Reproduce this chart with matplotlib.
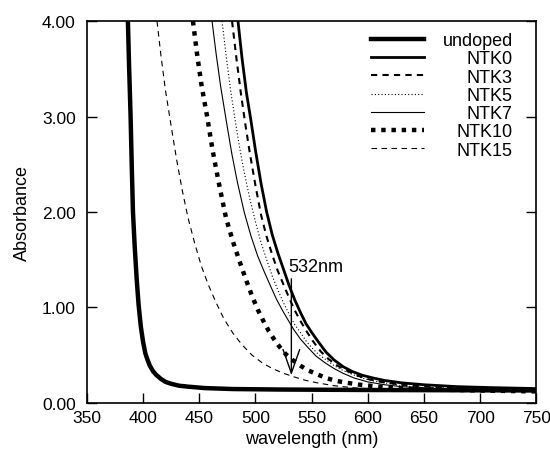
import matplotlib
matplotlib.use("Agg")
import matplotlib.pyplot as plt
from matplotlib.transforms import Affine2D

plt.rcParams['font.family'] = ['Liberation Sans', 'DejaVu Sans']

# absorbance spectra (wavelength in nm, absorbance)
wl_undoped = [386.5, 387.5, 388.9, 390, 391, 392.5, 394.3, 396, 398, 400, 402, 404, 406, 409,
              412, 416, 420, 425, 432, 440, 455, 480, 520, 600, 750]
ab_undoped = [4.0, 3.55, 3.0, 2.45, 2.0, 1.65, 1.3, 1.03, 0.80, 0.64, 0.52, 0.45, 0.39, 0.33,
              0.29, 0.25, 0.22, 0.20, 0.18, 0.17, 0.155, 0.145, 0.14, 0.135, 0.13]

wl_ntk0 = [484.5, 488, 492, 496, 500, 505, 510, 515, 520, 525, 530, 535, 540, 545, 550, 556,
           563, 570, 578, 586, 595, 605, 615, 630, 650, 680, 710, 750]
ab_ntk0 = [4.0, 3.62, 3.25, 2.96, 2.65, 2.30, 2.00, 1.76, 1.57, 1.40, 1.23, 1.08, 0.95, 0.83,
           0.74, 0.64, 0.53, 0.45, 0.38, 0.33, 0.29, 0.26, 0.235, 0.21, 0.19, 0.17, 0.16, 0.15]

wl_ntk3 = [479.2, 483, 487, 491, 495, 500, 505, 510, 515, 520, 525, 530, 535, 540, 545, 551,
           558, 565, 573, 581, 590, 600, 612, 630, 650, 680, 710, 750]
ab_ntk3 = [4.0, 3.62, 3.25, 2.92, 2.62, 2.28, 1.97, 1.74, 1.55, 1.38, 1.24, 1.10, 0.97, 0.86,
           0.76, 0.65, 0.54, 0.46, 0.39, 0.34, 0.29, 0.25, 0.22, 0.19, 0.17, 0.16, 0.15, 0.14]

wl_ntk5 = [470.3, 474, 478, 482, 486, 490, 495, 500, 505, 510, 515, 520, 525, 530, 535, 540,
           545, 550, 556, 563, 570, 578, 586, 595, 605, 615, 630, 650, 680, 710, 750]
ab_ntk5 = [4.0, 3.63, 3.27, 2.96, 2.67, 2.42, 2.14, 1.90, 1.68, 1.50, 1.33, 1.18, 1.05, 0.93,
           0.82, 0.74, 0.65, 0.58, 0.51, 0.45, 0.39, 0.34, 0.30, 0.26, 0.23, 0.21, 0.18, 0.16,
           0.145, 0.14, 0.13]

wl_ntk7 = [461.4, 465, 469, 474, 479, 484, 490, 496, 502, 508, 514, 519, 525, 530, 534, 540,
           546, 554, 562, 570, 578, 588, 600, 615, 630, 650, 680, 710, 750]
ab_ntk7 = [4.0, 3.66, 3.32, 2.96, 2.61, 2.31, 2.00, 1.75, 1.54, 1.37, 1.21, 1.08, 0.95, 0.85,
           0.77, 0.67, 0.59, 0.49, 0.42, 0.36, 0.31, 0.26, 0.22, 0.19, 0.17, 0.155, 0.145,
           0.135, 0.13]

wl_ntk10 = [444.4, 448, 452, 457, 462, 468, 474, 480, 486, 491, 497, 502, 507, 512, 517, 522,
            527, 533, 540, 547, 555, 563, 572, 582, 593, 610, 630, 660, 700, 750]
ab_ntk10 = [4.0, 3.66, 3.33, 3.0, 2.64, 2.27, 1.93, 1.69, 1.48, 1.31, 1.12, 0.98, 0.86, 0.75,
            0.66, 0.58, 0.51, 0.45, 0.39, 0.34, 0.30, 0.26, 0.23, 0.21, 0.19, 0.17, 0.15,
            0.14, 0.13, 0.12]

wl_ntk15 = [412.4, 416, 420, 425, 430, 435, 440, 446, 452, 458, 465, 472, 480, 488, 497, 506,
            515, 525, 535, 545, 555, 570, 590, 620, 660, 700, 750]
ab_ntk15 = [4.0, 3.63, 3.27, 2.90, 2.54, 2.22, 1.94, 1.67, 1.43, 1.24, 1.05, 0.88, 0.73, 0.61,
            0.50, 0.42, 0.36, 0.31, 0.27, 0.235, 0.21, 0.18, 0.155, 0.14, 0.13, 0.125, 0.12]

fig = plt.figure(figsize=(5.5, 4.6), dpi=100)
ax = fig.add_axes([0.158, 0.122, 0.817, 0.83])

ax.plot(wl_undoped, ab_undoped, color='k', lw=3.2, label='undoped')
ax.plot(wl_ntk0, ab_ntk0, color='k', lw=2.0, label='NTK0')
ax.plot(wl_ntk3, ab_ntk3, color='k', lw=1.5, ls=(0, (3, 2.5)), label='NTK3')
ax.plot(wl_ntk5, ab_ntk5, color='k', lw=0.8, ls=(0, (1, 2)), label='NTK5')
ax.plot(wl_ntk7, ab_ntk7, color='k', lw=0.8, label='NTK7')
ax.plot(wl_ntk10, ab_ntk10, color='k', lw=3.2, ls=(0, (1, 1.3)), label='NTK10')
ax.plot(wl_ntk15, ab_ntk15, color='k', lw=0.8, ls=(0, (5, 4)), label='NTK15')

# 532 nm marker
ax.annotate('', xy=(532, 0.29), xytext=(532, 1.30),
            arrowprops=dict(arrowstyle='->,head_length=0.85,head_width=0.3',
                            lw=1, color='k', mutation_scale=20,
                            shrinkA=0, shrinkB=0))
ax.text(529.5, 1.43, '532nm', fontsize=13, va='center', ha='left')

ax.set_xlim(350, 750)
ax.set_ylim(0, 4)
ax.set_xticks(range(350, 751, 50))
ax.set_yticks([0, 1, 2, 3, 4])
ax.set_yticklabels(['%.2f' % v for v in [0, 1, 2, 3, 4]])
ax.tick_params(direction='in', length=7, width=1, labelsize=12.5, right=True, top=False)
ax.tick_params(axis='x', pad=5)
ax.tick_params(axis='y', pad=8)
for s in ax.spines.values():
    s.set_linewidth(1.2)
ax.set_xlabel('wavelength (nm)', fontsize=13, labelpad=4)
ax.set_ylabel('Absorbance', fontsize=13, labelpad=8)

leg = ax.legend(loc='upper right', frameon=False, fontsize=13, handlelength=2.9,
                labelspacing=0.07, handletextpad=1.05, borderaxespad=0.0,
                bbox_to_anchor=(0.964, 0.99))
fig.canvas.draw()
r = fig.canvas.get_renderer()
texts = leg.get_texts()
widths = [t.get_window_extent(r).width for t in texts]
wmax = max(widths)
for t, w in zip(texts, widths):
    t.set_transform(t.get_transform() + Affine2D().translate(wmax - w, 0))

fig.savefig('out.png', dpi=100)
